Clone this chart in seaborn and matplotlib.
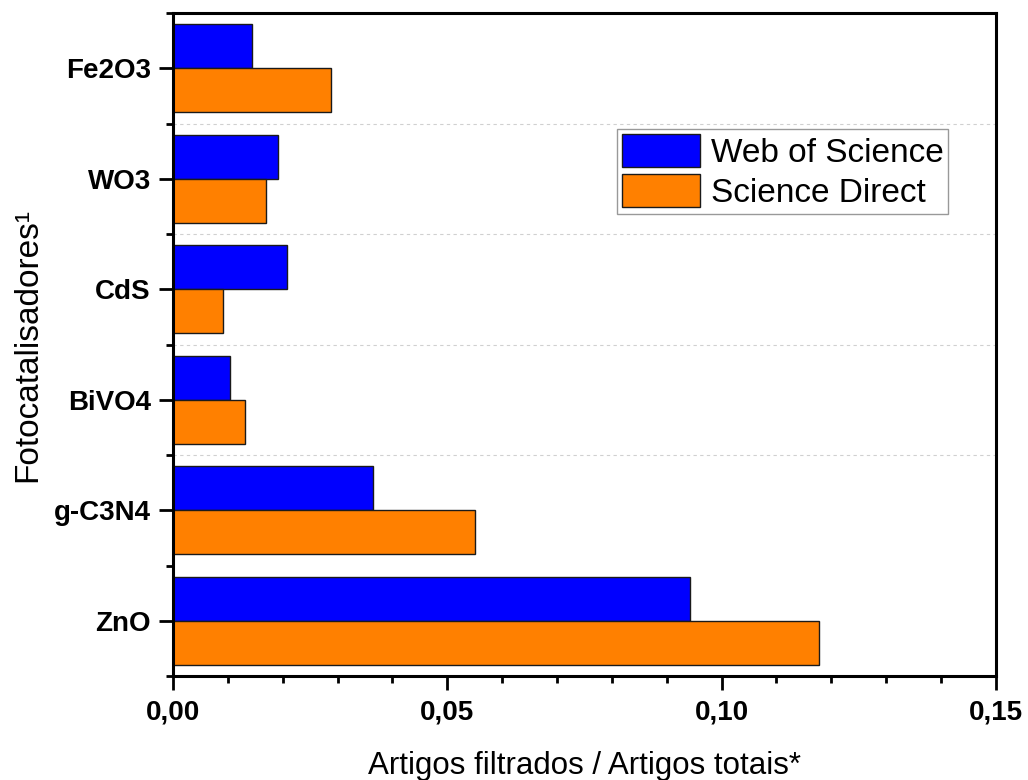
import matplotlib
matplotlib.use("Agg")
import matplotlib.pyplot as plt
import seaborn as sns
import pandas as pd
from matplotlib.ticker import MultipleLocator, FixedLocator, FuncFormatter

categories = ["Fe2O3", "WO3", "CdS", "BiVO4", "g-C3N4", "ZnO"]
web_of_science = [0.0144, 0.0191, 0.0208, 0.0104, 0.0365, 0.0942]
science_direct = [0.0288, 0.0170, 0.0092, 0.0131, 0.0550, 0.1178]
series_names = ["Web of Science", "Science Direct"]
x_ticks = [0.00, 0.05, 0.10, 0.15]

df = pd.DataFrame({
    "cat": categories * 2,
    "val": web_of_science + science_direct,
    "src": [series_names[0]] * len(categories) + [series_names[1]] * len(categories),
})

sns.set_theme(style="white")
plt.rcParams["font.family"] = ["Liberation Sans", "DejaVu Sans"]
plt.rcParams["text.color"] = "black"
plt.rcParams["axes.labelcolor"] = "black"

fig = plt.figure(figsize=(10.28, 7.8), dpi=100)
ax = fig.add_axes([0.1683, 0.1333, 0.8005, 0.85])

sns.barplot(data=df, x="val", y="cat", hue="src", order=categories,
            hue_order=series_names, palette=["#0000FF", "#FF8000"],
            orient="h", width=0.8, edgecolor="#1a1a1a", linewidth=1.0,
            saturation=1, ax=ax, errorbar=None)

ax.set_xlim(0, 0.15)
ax.set_ylim(len(categories) - 0.5, -0.5)

# dashed separators
for b in [0.5, 1.5, 2.5, 3.5]:
    ax.axhline(b, color="#d0d0d0", linestyle=(0, (3, 3)), linewidth=0.8, zorder=0)

ax.xaxis.set_major_locator(FixedLocator(x_ticks))
ax.xaxis.set_minor_locator(MultipleLocator(0.01))
ax.xaxis.set_major_formatter(FuncFormatter(lambda v, p: f"{v:.2f}".replace(".", ",")))
ax.yaxis.set_minor_locator(FixedLocator([i + 0.5 for i in range(-1, len(categories))]))

ax.tick_params(axis="both", which="major", direction="out", length=10, width=2,
               color="black", bottom=True, left=True, top=False, right=False)
ax.tick_params(axis="both", which="minor", direction="out", length=5, width=2,
               color="black", bottom=True, left=True, top=False, right=False)
ax.tick_params(axis="x", which="major", labelsize=20, pad=7)
ax.tick_params(axis="y", which="major", labelsize=20, pad=6)
for lbl in ax.get_xticklabels() + ax.get_yticklabels():
    lbl.set_fontweight("bold")
    lbl.set_color("black")

for s in ax.spines.values():
    s.set_linewidth(2.2)
    s.set_color("black")
    s.set_visible(True)

ax.set_xlabel("Artigos filtrados / Artigos totais*", fontsize=22.5, labelpad=18, color="black")
ax.set_ylabel("Fotocatalisadores¹", fontsize=24, color="black")
ax.yaxis.set_label_coords(-0.158, 0.5)

handles, labels = ax.get_legend_handles_labels()
leg = ax.legend(handles, labels, loc="upper left", bbox_to_anchor=(0.5395, 0.825),
                fontsize=24, frameon=True, fancybox=False, edgecolor="#808080",
                handlelength=2.33, handleheight=1.15, labelspacing=0.15,
                handletextpad=0.33, borderpad=0.15, borderaxespad=0)
leg.get_frame().set_linewidth(1.0)
for t in leg.get_texts():
    t.set_color("black")

fig.savefig("out.png", dpi=100)
